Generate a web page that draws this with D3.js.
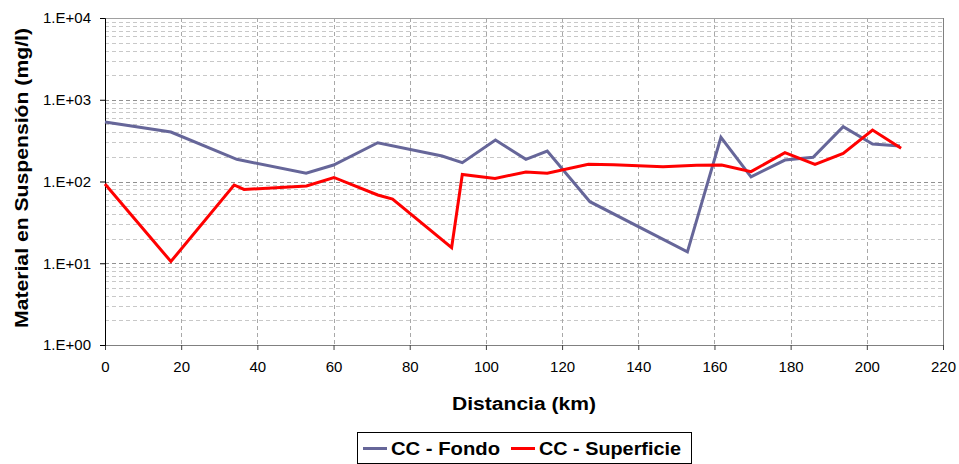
<!DOCTYPE html>
<html><head><meta charset="utf-8">
<script src="https://cdn.jsdelivr.net/npm/d3@7"></script>
<style>body{margin:0;background:#fff;} svg{display:block;font-family:Arial,"Liberation Sans",sans-serif;}</style>
</head><body><svg id="c" width="959" height="464"></svg>
<script>
const fondoX = [0, 17.3, 34.6, 52.8, 60, 71.6, 88.5, 93.8, 102.5, 110.5, 116.1, 127.3, 152.9, 161.7, 169.6, 178.5, 185.9, 193.8, 201.5, 208.7];
const fondoY = [535, 403, 187, 126, 159, 298, 205, 170, 322, 187, 236, 56.6, 13.8, 347, 114, 183, 198, 468, 288, 272];
const supX = [0, 17.3, 33.9, 36.5, 52.9, 60.1, 71.6, 75.5, 91, 93.8, 102.4, 110.5, 116.1, 126.9, 133.5, 146.5, 155.3, 161.9, 169.6, 178.5, 186.4, 193.8, 201.5, 209];
const supY = [93, 10.5, 90.6, 80, 88, 112, 68.4, 61, 15.5, 122, 109, 131, 126, 162, 160, 152, 158, 159, 132, 225, 162, 221, 426, 255];
const xTicks = [0,20,40,60,80,100,120,140,160,180,200,220];
const yTicks = [1,10,100,1000,10000];
const yTickLabels = ["1.E+00","1.E+01","1.E+02","1.E+03","1.E+04"];
const seriesNames = ["CC - Fondo","CC - Superficie"];
const colors = ["#666699","#ff0000"];

const svg = d3.select("#c");
const L=105, R=943, T=18, B=345;
const x = d3.scaleLinear().domain([0,220]).range([L,R]);
const y = d3.scaleLog().domain([1,10000]).range([B,T]);

// minor horizontal grid
const minors=[];
for(let d=1; d<10000; d*=10) for(let k=2;k<=9;k++) minors.push(d*k);
svg.append("g").selectAll("line").data(minors).join("line")
  .attr("x1",L).attr("x2",R).attr("y1",d=>Math.round(y(d))+0.5).attr("y2",d=>Math.round(y(d))+0.5)
  .attr("stroke","#c8c8c8").attr("stroke-dasharray","4,3").attr("stroke-width",1);
// vertical grid
svg.append("g").selectAll("line").data(xTicks.slice(1,-1)).join("line")
  .attr("x1",d=>Math.round(x(d))+0.5).attr("x2",d=>Math.round(x(d))+0.5).attr("y1",T).attr("y2",B)
  .attr("stroke","#a8a8a8").attr("stroke-dasharray","4,3").attr("stroke-width",1);
// major horizontal grid
svg.append("g").selectAll("line").data(yTicks.slice(1,-1)).join("line")
  .attr("x1",L).attr("x2",R).attr("y1",d=>Math.round(y(d))+0.5).attr("y2",d=>Math.round(y(d))+0.5)
  .attr("stroke","#909090").attr("stroke-dasharray","4,3").attr("stroke-width",1);
// frame top/right
svg.append("line").attr("x1",L).attr("x2",R).attr("y1",T+0.5).attr("y2",T+0.5).attr("stroke","#a0a0a0");
svg.append("line").attr("x1",R+0.5).attr("x2",R+0.5).attr("y1",T).attr("y2",B).attr("stroke","#808080");

// axes
const xAxis = svg.append("g").attr("transform",`translate(0,${B})`)
  .call(d3.axisBottom(x).tickValues(xTicks).tickSize(5).tickPadding(11).tickFormat(d3.format("d")));
xAxis.select(".domain").attr("stroke","#808080");
xAxis.selectAll(".tick line").attr("stroke","#404040");
xAxis.selectAll("text").attr("font-size","15px").attr("fill","#000");
const yAxis = svg.append("g").attr("transform",`translate(${L},0)`)
  .call(d3.axisLeft(y).tickValues(yTicks).tickSize(5).tickPadding(9).tickFormat((d,i)=>yTickLabels[i]));
yAxis.select(".domain").attr("stroke","#000");
yAxis.selectAll(".tick line").attr("stroke","#000");
yAxis.selectAll("text").attr("font-size","15px").attr("fill","#000");

// lines
const line = d3.line().x(d=>x(d[0])).y(d=>y(d[1]));
const data = [d3.zip(fondoX,fondoY), d3.zip(supX,supY)];
data.forEach((d,i)=>{
  svg.append("path").attr("d",line(d)).attr("fill","none").attr("stroke",colors[i])
    .attr("stroke-width",3).attr("stroke-linejoin","miter");
});

// axis titles
svg.append("text").attr("x",524).attr("y",410).attr("text-anchor","middle")
  .attr("font-size","18px").attr("font-weight","bold")
  .attr("textLength",144).attr("lengthAdjust","spacingAndGlyphs").text("Distancia (km)");
svg.append("text").attr("transform",`translate(28,178) rotate(-90)`).attr("text-anchor","middle")
  .attr("font-size","18px").attr("font-weight","bold")
  .attr("textLength",300).attr("lengthAdjust","spacingAndGlyphs").text("Material en Suspensión (mg/l)");

// legend
const lg = svg.append("g");
lg.append("rect").attr("x",357.5).attr("y",432.5).attr("width",334).attr("height",31).attr("fill","#fff").attr("stroke","#000");
const lx=[363,511];
const lw=[109,142];
seriesNames.forEach((n,i)=>{
  lg.append("line").attr("x1",lx[i]).attr("x2",lx[i]+24).attr("y1",448.5).attr("y2",448.5).attr("stroke",colors[i]).attr("stroke-width",3);
  lg.append("text").attr("x",lx[i]+28).attr("y",455).attr("font-size","17.5px").attr("font-weight","bold")
    .attr("textLength",lw[i]).attr("lengthAdjust","spacingAndGlyphs").text(n);
});
</script></body></html>
